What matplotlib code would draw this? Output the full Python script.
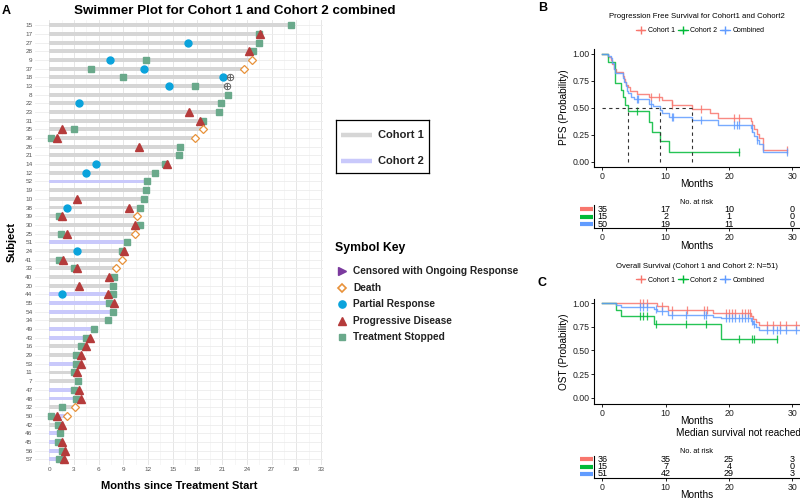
import numpy as np
import matplotlib
matplotlib.use("Agg")
import matplotlib.pyplot as plt
from matplotlib.lines import Line2D

plt.rcParams['font.family'] = ['Liberation Sans', 'DejaVu Sans']

# -------------------------------------------------
# SWIMMER DATA (top to bottom)
# -------------------------------------------------
subjects = [15, 17, 27, 28, 9, 37, 18, 13, 8, 22, 23, 31, 35, 36, 26, 21, 14, 12, 52, 19,
            10, 38, 39, 30, 25, 51, 24, 41, 33, 40, 20, 44, 55, 54, 34, 49, 43, 16, 29, 53,
            11, 7, 47, 48, 32, 50, 42, 46, 45, 56, 57]
cohort = [1, 1, 1, 1, 1, 1, 1, 1, 1, 1, 1, 1, 1, 1, 1, 1, 1, 1, 2, 1,
          1, 1, 1, 1, 1, 2, 1, 1, 1, 1, 1, 2, 2, 2, 1, 2, 2, 1, 1, 2,
          1, 1, 2, 2, 1, 2, 1, 2, 2, 2, 2]
N = None
stopped = [29.4, 25.5, 25.5, 24.7, 11.7, 5.1, 8.9, 17.7, 21.7, 20.9, 20.6, 18.7, 3.0, 0.2, 15.9, 15.7, 14.0, 12.8, 11.9, 11.7,
           11.5, 11.0, 1.2, 11.0, 1.4, 9.4, 8.8, 1.2, 3.0, 7.8, 7.7, 7.7, 7.2, 7.7, 7.1, 5.4, 4.4, 3.9, 3.3, 3.3,
           3.0, 3.5, 3.0, 3.2, 1.5, 0.2, 1.1, 1.25, 1.1, 1.5, 1.2]
progressed = [N, 25.6, N, 24.2, N, N, N, N, N, N, 17.0, 18.3, 1.6, 0.9, 10.9, N, 14.3, N, N, N,
              3.4, 9.7, 1.6, 10.4, 2.1, N, 9.1, 1.7, 3.4, 7.3, 3.6, 7.1, 7.9, N, N, N, 5.0, 4.5, 3.9, 3.8,
              3.4, N, 3.6, 3.8, N, 0.9, 1.6, N, 1.5, 1.9, 1.8]
partial = [N, N, 16.8, N, 7.4, 11.5, 21.1, 14.5, N, 3.6, N, N, N, N, N, N, 5.7, 4.4, N, N,
           N, 2.1, N, N, N, N, 3.4, N, N, N, N, 1.6, N, N, N, N, N, N, N, N,
           N, N, N, N, N, N, N, N, N, N, N]
death = [N, N, N, N, 24.6, 23.7, N, N, N, N, N, N, 18.7, 17.7, N, N, N, N, N, N,
         N, N, 10.7, N, 10.4, N, N, 8.8, 8.1, N, N, N, N, N, N, N, N, N, N, N,
         N, N, N, N, 3.1, 2.2, N, N, N, N, N]
censored = [N, N, N, N, N, N, 21.9, 21.6, N, N, N, N, N, N, N, N, N, N, N, N,
            N, N, N, N, N, N, N, N, N, N, N, N, N, N, N, N, N, N, N, N,
            N, N, N, N, N, N, N, N, N, N, N]

# -------------------------------------------------
# KM DATA
# -------------------------------------------------
pfs_c1_t = [0, 0.95, 1.3, 1.5, 1.8, 2.1, 3.3, 3.5, 3.6, 3.8, 4.0, 4.3, 5.4, 7.3, 9.4, 11.0, 14.2, 17.0, 18.3, 23.4, 23.7, 24.0, 24.4, 24.8, 25.4]
pfs_c1_s = [1.0, 0.97, 0.94, 0.91, 0.86, 0.83, 0.80, 0.77, 0.74, 0.71, 0.69, 0.66, 0.63, 0.60, 0.57, 0.53, 0.49, 0.45, 0.41, 0.38, 0.34, 0.30, 0.26, 0.22, 0.11]
pfs_c2_t = [0, 0.95, 2.0, 3.0, 3.3, 3.6, 4.0, 7.3, 7.9, 9.1, 10.5]
pfs_c2_s = [1.0, 0.93, 0.73, 0.67, 0.60, 0.53, 0.47, 0.37, 0.28, 0.19, 0.09]
pfs_all_t = [0, 0.95, 1.3, 1.6, 1.9, 2.0, 3.3, 3.5, 3.7, 3.9, 4.0, 4.5, 5.0, 7.3, 8.0, 9.1, 9.5, 10.5, 14.2, 18.3, 23.4, 23.7, 24.0, 24.4, 24.8, 25.4]
pfs_all_s = [1.0, 0.98, 0.96, 0.92, 0.86, 0.82, 0.78, 0.74, 0.70, 0.66, 0.64, 0.60, 0.58, 0.54, 0.52, 0.48, 0.45, 0.42, 0.39, 0.34, 0.31, 0.28, 0.24, 0.20, 0.17, 0.09]
pfs_end = [29.2, 21.5, 29.2]
pfs_c1_cens = [7.7, 8.9, 11.0, 15.5, 20.8, 21.6, 29.1]
pfs_c2_cens = [5.5, 21.5]
pfs_all_cens = [5.4, 5.6, 7.7, 11.0, 11.2, 15.5, 20.8, 21.2, 21.6, 23.6, 24.4, 29.1]
pfs_medians = [4.0, 9.1, 14.2]

os_c1_t = [0, 8.7, 10.3, 17.5, 23.4, 23.8, 24.3, 24.8]
os_c1_s = [1.0, 0.97, 0.93, 0.90, 0.87, 0.83, 0.80, 0.77]
os_c2_t = [0, 2.2, 3.0, 8.2, 18.7]
os_c2_s = [1.0, 0.93, 0.87, 0.78, 0.62]
os_all_t = [0, 2.2, 3.0, 8.2, 8.7, 10.3, 17.5, 18.7, 23.4, 23.8, 24.3, 24.8]
os_all_s = [1.0, 0.98, 0.96, 0.94, 0.92, 0.88, 0.86, 0.84, 0.81, 0.78, 0.75, 0.72]
os_end = [31.5, 27.5, 31.5]
os_c1_cens = [6.0, 6.5, 7.1, 9.5, 11.0, 13.3, 16.0, 16.5, 19.5, 20.0, 20.5, 21.0, 22.0, 22.5, 23.0, 23.3,
              26.0, 27.0, 28.0, 29.0, 30.5]
os_c2_cens = [6.0, 6.5, 7.0, 8.5, 13.2, 16.4, 21.5, 23.6, 24.0, 27.5]
os_all_cens = [6.0, 6.5, 7.0, 8.5, 9.5, 11.0, 13.2, 16.0, 16.4, 19.5, 20.0, 20.5, 21.0, 21.5, 22.0, 22.5,
               23.0, 23.6, 24.0, 26.0, 27.0, 27.5, 28.0, 29.0, 30.5]

risk_times = [0, 10, 20, 30]
pfs_risk = [[35, 17, 10, 0], [15, 2, 1, 0], [50, 19, 11, 0]]
os_risk = [[36, 35, 25, 3], [15, 7, 4, 0], [51, 42, 29, 3]]

group_names = ["Cohort 1", "Cohort 2", "Combined"]
group_colors = ["#F8766D", "#00BA38", "#619CFF"]

# -------------------------------------------------
# FIGURE
# -------------------------------------------------
W, H = 800, 498
fig = plt.figure(figsize=(W / 100, H / 100), dpi=100)


def px_axes(left, top, right, bottom):
    return fig.add_axes([left / W, 1 - bottom / H, (right - left) / W, (bottom - top) / H])


def fig_text(x, y, s, **kw):
    fig.text(x / W, 1 - y / H, s, **kw)


# ---------------- swimmer ----------------
ax = px_axes(35.3, 20, 322.6, 464.5)
rows = np.arange(len(subjects))
for xv in np.arange(0, 34, 3):
    ax.axvline(xv, color="#e6e6e6", lw=0.7, zorder=0)
for xv in np.arange(1.5, 34, 3):
    ax.axvline(xv, color="#f0f0f0", lw=0.4, zorder=0)
for r in rows:
    ax.axhline(r, color="#ececec", lw=0.6, zorder=0)

events = [stopped, progressed, partial, death, censored]
duration = [max(v[i] for v in events if v[i] is not None) for i in rows]
bar_cols = ["#d6d6d6" if c == 1 else "#c9c9fb" for c in cohort]
ax.barh(rows, duration, height=0.45, color=bar_cols, zorder=1)


def pts(vals):
    idx = [i for i, v in enumerate(vals) if v is not None]
    return [vals[i] for i in idx], idx


x, y = pts(stopped)
ax.plot(x, y, ls="none", marker="s", ms=4.6, color="#6aa98b", zorder=3)
x, y = pts(partial)
ax.plot(x, y, ls="none", marker="o", ms=5, color="#0aa3dc", zorder=4)
x, y = pts(progressed)
ax.plot(x, y, ls="none", marker="^", ms=5.2, color="#b53b3b", zorder=5)
x, y = pts(death)
ax.plot(x, y, ls="none", marker="D", ms=4.2, mfc="white", mec="#e8923a", mew=0.9, zorder=5)
x, y = pts(censored)
ax.plot(x, y, ls="none", marker="o", ms=4.6, mfc="none", mec="#666666", mew=0.7, zorder=5)
ax.plot(x, y, ls="none", marker="+", ms=4.6, color="#666666", mew=0.7, zorder=5)

ax.set_xlim(-1.7, 33.2)
ax.set_ylim(50.6, -0.6)
ax.set_xticks(np.arange(0, 34, 3))
ax.set_yticks(rows)
ax.set_yticklabels([str(s) for s in subjects])
ax.tick_params(length=0, labelsize=4.6, colors="#555555", pad=2)
for sp in ax.spines.values():
    sp.set_visible(False)
ax.set_xlabel("Months since Treatment Start", fontsize=8, fontweight="bold", labelpad=6)
ax.set_ylabel("Subject", fontsize=8, fontweight="bold", labelpad=6)

fig_text(74, 11, "Swimmer Plot for Cohort 1 and Cohort 2 combined", fontsize=9.6,
         fontweight="bold", va="center", ha="left")
fig_text(2, 11, "A", fontsize=9, fontweight="bold", va="center")

# cohort legend box
lg = px_axes(336, 120, 429, 172.7)
lg.set_xlim(0, 93)
lg.set_ylim(52.7, 0)
lg.set_xticks([])
lg.set_yticks([])
for sp in lg.spines.values():
    sp.set_linewidth(0.9)
lg.plot([5, 36], [15, 15], color="#d6d6d6", lw=3.2, solid_capstyle="butt")
lg.plot([5, 36], [40.7, 40.7], color="#c9c9fb", lw=3.2, solid_capstyle="butt")
lg.text(41.5, 15, "Cohort 1", fontsize=8, va="center", fontweight="bold", color="#222222")
lg.text(41.5, 40.7, "Cohort 2", fontsize=8, va="center", fontweight="bold", color="#222222")

# symbol key
fig_text(335, 248, "Symbol Key", fontsize=8.8, fontweight="bold", va="center")
key_labels = ["Censored with Ongoing Response", "Death", "Partial Response",
              "Progressive Disease", "Treatment Stopped"]
key_style = [dict(marker=">", color="#7b3a9e", ms=5.5),
             dict(marker="D", mfc="white", mec="#e8923a", mew=1.2, ms=4.5),
             dict(marker="o", color="#0aa3dc", ms=5.2),
             dict(marker="^", color="#b53b3b", ms=5.5),
             dict(marker="s", color="#6aa98b", ms=4.8)]
key_ax = px_axes(330, 260, 530, 346)
key_ax.set_xlim(330, 530)
key_ax.set_ylim(346, 260)
key_ax.axis("off")
for i, (lab, st) in enumerate(zip(key_labels, key_style)):
    yk = 271 + i * 16.6
    key_ax.plot([342], [yk], ls="none", **st)
    key_ax.text(353, yk, lab, fontsize=7.3, fontweight="bold", va="center", color="#222222")

fig_text(538, 8, "B", fontsize=9, fontweight="bold", va="center")
fig_text(538, 283, "C", fontsize=9, fontweight="bold", va="center")


# ---------------- KM panels ----------------
def step_at(t, s, c):
    return s[np.searchsorted(t, c, side="right") - 1]


def km_panel(top, bottom, ylo, curves, ends, cens, ylabel):
    a = px_axes(594, top, 800, bottom)
    for (t, s), e, cc, col in zip(curves, ends, cens, group_colors):
        a.step(list(t) + [e], list(s) + [s[-1]], where="post", color=col, lw=1.0, alpha=0.85)
        cy = [step_at(np.array(t), s, c) for c in cc]
        a.plot(cc, cy, ls="none", marker="|", ms=6, mew=0.9, color=col, alpha=0.85)
    a.set_xlim(-1.31, 31.2)
    a.set_ylim(ylo, 1.05)
    a.set_xticks(risk_times)
    a.set_yticks([0, 0.25, 0.5, 0.75, 1.0])
    a.set_yticklabels(["0.00", "0.25", "0.50", "0.75", "1.00"])
    a.tick_params(labelsize=6.3, length=2.5, width=0.7, pad=1, colors="#222222")
    for sp in ["top", "right"]:
        a.spines[sp].set_visible(False)
    for sp in ["left", "bottom"]:
        a.spines[sp].set_linewidth(0.8)
    a.set_xlabel("Months", fontsize=7.2, labelpad=-1)
    a.set_ylabel(ylabel, fontsize=7.2, labelpad=2)
    return a


def risk_table(top, bottom, counts, label_y):
    r = px_axes(594, top, 800, bottom)
    r.set_xlim(-1.31, 31.2)
    r.set_ylim(0.45, 3.55)
    for k, (vals, col) in enumerate(zip(counts, group_colors)):
        yy = 3 - k
        for tx, v in zip(risk_times, vals):
            r.text(tx, yy, str(v), ha="center", va="center", fontsize=6.5)
        r.plot([-3.5, -1.5], [yy, yy], color=col, lw=3, clip_on=False, solid_capstyle="butt")
    r.set_xticks(risk_times)
    r.set_yticks([])
    r.tick_params(labelsize=6.3, length=2.5, width=0.7, pad=1, colors="#222222")
    for sp in ["top", "right"]:
        r.spines[sp].set_visible(False)
    for sp in ["left", "bottom"]:
        r.spines[sp].set_linewidth(0.8)
    r.set_xlabel("Months", fontsize=7.2, labelpad=-1)
    fig_text(697, label_y, "No. at risk", fontsize=5.3, ha="center", va="center")
    return r


def km_legend(y):
    handles = [Line2D([], [], color=c, marker="+", ms=6, lw=0.9) for c in group_colors]
    fig.legend(handles, group_names, loc="center", bbox_to_anchor=(700 / W, 1 - y / H),
               ncol=3, frameon=False, fontsize=5, handlelength=1.4, handletextpad=0.3,
               columnspacing=0.5)


pfs = km_panel(48.6, 166.7, -0.045,
               [(pfs_c1_t, pfs_c1_s), (pfs_c2_t, pfs_c2_s), (pfs_all_t, pfs_all_s)],
               pfs_end, [pfs_c1_cens, pfs_c2_cens, pfs_all_cens], "PFS (Probability)")
pfs.plot([0, max(pfs_medians)], [0.5, 0.5], color="#333333", ls=(0, (3, 3)), lw=0.8)
for m in pfs_medians:
    pfs.plot([m, m], [0, 0.5], color="#333333", ls=(0, (3, 3)), lw=0.8)
fig_text(697, 17, "Progression Free Survival for Cohort1 and Cohort2", fontsize=5.6,
         ha="center", va="center")
km_legend(31)
risk_table(205, 228.3, pfs_risk, 202)

osp = km_panel(298.6, 404, -0.067,
               [(os_c1_t, os_c1_s), (os_c2_t, os_c2_s), (os_all_t, os_all_s)],
               os_end, [os_c1_cens, os_c2_cens, os_all_cens], "OST (Probability)")
fig_text(697, 266, "Overall Survival (Cohort 1 and Cohort 2: N=51)", fontsize=5.6,
         ha="center", va="center")
km_legend(280)
fig_text(801, 433, "Median survival not reached", fontsize=7.2, ha="right", va="center")
risk_table(455.5, 477.7, os_risk, 451)

fig.savefig("out.png", dpi=100)
